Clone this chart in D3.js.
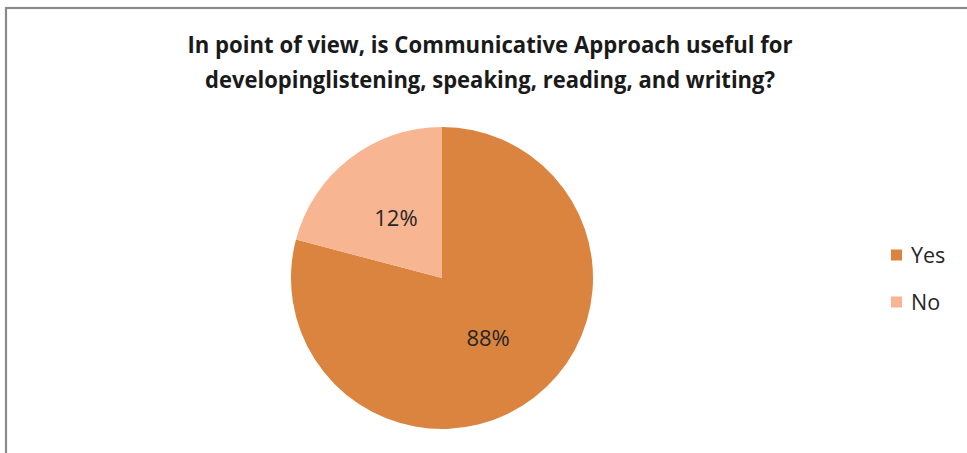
<!DOCTYPE html>
<html>
<head>
<meta charset="utf-8">
<script src="https://cdn.jsdelivr.net/npm/d3@7"></script>
<style>
  html, body { margin: 0; padding: 0; background: #fff; }
  svg { display: block; }
</style>
</head>
<body>
<svg id="chart" width="967" height="453"></svg>
<script>
// Data
const categories = ["Yes", "No"];
const sliceShares = [79.1, 20.9];          // visual share of each slice
const sliceLabels = ["88%", "12%"];        // labels printed on the slices
const colors = ["#DB843F", "#F8B591"];
const titleLines = [
  "In point of view, is Communicative Approach useful for",
  "developinglistening, speaking, reading, and writing?"
];

const svg = d3.select("#chart");
const W = 967, H = 453;

// frame
svg.append("rect")
  .attr("x", 6).attr("y", 8)
  .attr("width", W + 10).attr("height", H + 10)
  .attr("fill", "#fff")
  .attr("stroke", "#8a8a8a").attr("stroke-width", 2.2);

// title
const titleWidths = [605, 570];
const title = svg.append("g");
titleLines.forEach((t, i) => {
  title.append("text")
    .attr("x", 490)
    .attr("y", 53 + i * 35)
    .attr("text-anchor", "middle")
    .attr("font-family", "'Open Sans', 'Liberation Sans', sans-serif")
    .attr("font-weight", "bold")
    .attr("font-size", 22.5)
    .attr("fill", "#1a1a1a")
    .attr("textLength", titleWidths[i])
    .attr("lengthAdjust", "spacingAndGlyphs")
    .text(t);
});

// pie
const cx = 442, cy = 278, r = 151;
const data = categories.map((c, i) => ({ cat: c, value: sliceShares[i], label: sliceLabels[i], color: colors[i] }));
const pie = d3.pie().sort(null).value(d => d.value);
const arc = d3.arc().innerRadius(0).outerRadius(r);
const arcs = pie(data);

const g = svg.append("g").attr("transform", `translate(${cx},${cy})`);
g.selectAll("path")
  .data(arcs)
  .join("path")
  .attr("d", arc)
  .attr("fill", d => d.data.color);

g.selectAll("text")
  .data(arcs)
  .join("text")
  .attr("transform", d => `translate(${arc.centroid(d)})`)
  .attr("text-anchor", "middle")
  .attr("dy", "0.36em")
  .attr("font-family", "'Open Sans', 'Liberation Sans', sans-serif")
  .attr("font-size", 22)
  .attr("fill", "#262626")
  .text(d => d.data.label);

// legend
const legend = svg.append("g");
const ly = d3.scalePoint().domain(categories).range([255, 302]);
categories.forEach((c, i) => {
  legend.append("rect")
    .attr("x", 891).attr("y", ly(c) - 5.5)
    .attr("width", 11).attr("height", 11)
    .attr("fill", colors[i]);
  legend.append("text")
    .attr("x", 911).attr("y", ly(c))
    .attr("dy", "0.36em")
    .attr("font-family", "'Open Sans', 'Liberation Sans', sans-serif")
    .attr("font-size", 21.5)
    .attr("fill", "#262626")
    .text(c);
});
</script>
</body>
</html>
